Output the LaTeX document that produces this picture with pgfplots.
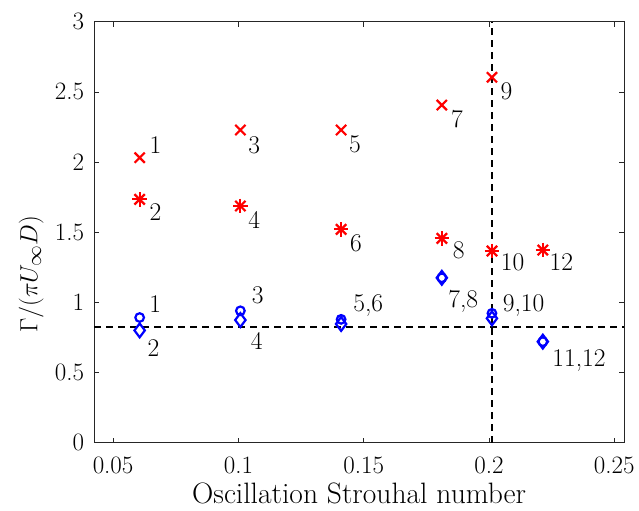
\documentclass[border=0pt]{standalone}
\usepackage{pgfplots}
\pgfplotsset{compat=1.18}
\tikzset{lab/.style={anchor=base west, inner sep=0pt, font=\fontsize{25.5bp}{30bp}\selectfont}}
\begin{document}
\begin{tikzpicture}
\begin{axis}[
  scale only axis, width=529.7bp, height=421bp,
  xmin=0.0425, xmax=0.2539, ymin=0, ymax=3,
  xtick={0.05,0.1,0.15,0.2,0.25},
  xticklabels={0.05,0.1,0.15,0.2,0.25},
  ytick={0,0.5,1,1.5,2,2.5,3},
  yticklabels={0,0.5,1,1.5,2,2.5,3},
  tick align=inside, major tick length=5bp,
  tick style={black!85, line width=0.6bp},
  axis line style={black!85, line width=0.8bp},
  ticklabel style={font=\fontsize{25bp}{30bp}\selectfont, text=black, inner sep=0pt},
  xticklabel style={anchor=north, yshift=-14bp},
  yticklabel style={anchor=east, xshift=-10bp},
  xlabel={Oscillation Strouhal number},
  xlabel style={at={(rel axis cs:0.5,0)}, anchor=base, yshift=-61bp, font=\fontsize{29.5bp}{35bp}\selectfont, inner sep=0pt},
  ylabel={$\Gamma/(\pi U_\infty D)$},
  ylabel style={at={([xshift=-63bp]rel axis cs:0,0.40)}, anchor=center, font=\fontsize{32bp}{38bp}\selectfont, inner sep=0pt},
  clip=false,
]
% reference lines
\addplot[black, line width=1.8bp, dash pattern=on 7bp off 5bp] coordinates {(0.0425,0.825) (0.2539,0.825)};
\addplot[black, line width=1.8bp, dash pattern=on 7bp off 5bp] coordinates {(0.2012,0) (0.2012,3)};
% red crosses
\addplot[only marks, red, mark=x, mark size=7.2bp, line width=2.2bp] coordinates {
(0.0606,2.031) (0.1008,2.228) (0.1410,2.228) (0.1812,2.406) (0.2012,2.604)};
% red asterisks (plus + cross)
\addplot[only marks, red, mark=+, mark size=7.3bp, line width=2.2bp] coordinates {
(0.0606,1.734) (0.1008,1.687) (0.1410,1.520) (0.1812,1.456) (0.2012,1.366) (0.2215,1.373)};
\addplot[only marks, red, mark=x, mark size=7.3bp, line width=2.2bp] coordinates {
(0.0606,1.734) (0.1008,1.687) (0.1410,1.520) (0.1812,1.456) (0.2012,1.366) (0.2215,1.373)};
% blue circles
\addplot[only marks, blue, mark=o, mark size=4.3bp, line width=2.2bp] coordinates {
(0.0606,0.892) (0.1008,0.940) (0.1410,0.879) (0.1812,1.175) (0.2012,0.922) (0.2215,0.720)};
% blue diamonds
\addplot[only marks, blue, mark=diamond, mark size=6.9bp, line width=2.2bp] coordinates {
(0.0606,0.800) (0.1008,0.874) (0.1410,0.846) (0.1812,1.175) (0.2012,0.886) (0.2215,0.720)};
% labels red crosses
\node[lab, xshift=9.7bp, yshift=4.3bp] at (axis cs:0.0606,2.031) {1};
\node[lab, xshift=7.7bp, yshift=-23.4bp] at (axis cs:0.1008,2.228) {3};
\node[lab, xshift=7.7bp, yshift=-22.4bp] at (axis cs:0.1410,2.228) {5};
\node[lab, xshift=9bp, yshift=-22.4bp] at (axis cs:0.1812,2.406) {7};
\node[lab, xshift=8.4bp, yshift=-22.4bp] at (axis cs:0.2012,2.604) {9};
% labels red asterisks
\node[lab, xshift=9.7bp, yshift=-21.4bp] at (axis cs:0.0606,1.734) {2};
\node[lab, xshift=7.7bp, yshift=-22.4bp] at (axis cs:0.1008,1.687) {4};
\node[lab, xshift=8.7bp, yshift=-22.4bp] at (axis cs:0.1410,1.520) {6};
\node[lab, xshift=10.8bp, yshift=-20.4bp] at (axis cs:0.1812,1.456) {8};
\node[lab, xshift=8.7bp, yshift=-19.1bp] at (axis cs:0.2012,1.366) {10};
\node[lab, xshift=6.6bp, yshift=-20.1bp] at (axis cs:0.2215,1.373) {12};
% labels blue
\node[lab, xshift=9.4bp, yshift=4.6bp] at (axis cs:0.0606,0.892) {1};
\node[lab, xshift=7.7bp, yshift=-26.4bp] at (axis cs:0.0606,0.800) {2};
\node[lab, xshift=11.3bp, yshift=7.3bp] at (axis cs:0.1008,0.940) {3};
\node[lab, xshift=10.4bp, yshift=-29.4bp] at (axis cs:0.1008,0.874) {4};
\node[lab, xshift=12bp, yshift=7.6bp] at (axis cs:0.1410,0.879) {5,6};
\node[lab, xshift=6.3bp, yshift=-29.4bp] at (axis cs:0.1812,1.175) {7,8};
\node[lab, xshift=10.7bp, yshift=2.2bp] at (axis cs:0.2012,0.922) {9,10};
\node[lab, xshift=9.4bp, yshift=-25bp] at (axis cs:0.2215,0.720) {11,12};
\end{axis}
\pgfresetboundingbox
\path (current axis.south west) ++(-94.3bp,-68.3bp) rectangle ([shift={(15bp,21.7bp)}]current axis.north east);
\end{tikzpicture}
\end{document}
